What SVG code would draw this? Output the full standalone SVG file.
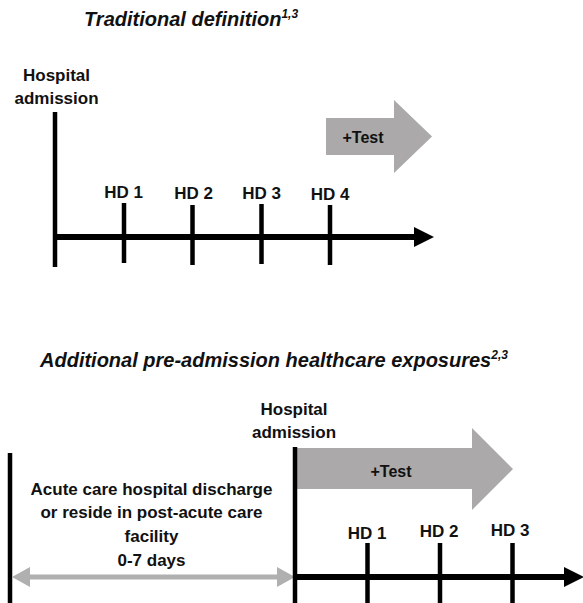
<svg xmlns="http://www.w3.org/2000/svg" width="583" height="603" viewBox="0 0 583 603">
<style>
.t{font-family:"Liberation Sans",Arial,sans-serif;font-weight:bold;fill:#111}
.title{font-size:20px;font-style:italic}
.lbl{font-size:17px;text-anchor:middle}
.sup{font-size:12px}
.blk{stroke:#000;stroke-width:4.5;fill:none}
.axis{stroke:#000;stroke-width:6;fill:none}
.gline{stroke:#b0b0b0;stroke-width:5;fill:none}
</style>
<defs>
<marker id="ah" markerUnits="userSpaceOnUse" markerWidth="22" markerHeight="22" refX="0" refY="10" orient="auto" viewBox="0 0 22 20">
<path d="M0,0 L20,10 L0,20 Z" fill="#000"/>
</marker>
<marker id="gh" markerUnits="userSpaceOnUse" markerWidth="20" markerHeight="20" refX="0" refY="10" orient="auto-start-reverse" viewBox="0 0 20 20">
<path d="M0,0 L18,10 L0,20 Z" fill="#b0b0b0"/>
</marker>
</defs>

<!-- Panel 1 -->
<g id="title1"><text class="t title" x="84" y="26">Traditional definition<tspan class="sup" dy="-8">1,3</tspan></text></g>
<g id="admission1">
<text class="t lbl" x="56.5" y="81">Hospital</text>
<text class="t lbl" x="56.5" y="104">admission</text>
</g>
<g id="test1">
<path d="M326,118 H394 V100 L432,136.5 L394,173 V155 H326 Z" fill="#aba9a9"/>
<text class="t lbl" x="363" y="143" style="font-size:16px">+Test</text>
</g>
<g id="hd1a"><text class="t lbl" x="123.5" y="198">HD 1</text></g>
<g id="hd2a"><text class="t lbl" x="193.5" y="199">HD 2</text></g>
<g id="hd3a"><text class="t lbl" x="261.5" y="199">HD 3</text></g>
<g id="hd4a"><text class="t lbl" x="330" y="200">HD 4</text></g>
<g id="connectors1">
<line class="blk" x1="55" y1="112" x2="55" y2="267"/>
<line class="axis" x1="55" y1="237" x2="414" y2="237" marker-end="url(#ah)"/>
<line class="blk" x1="124" y1="203" x2="124" y2="263"/>
<line class="blk" x1="192.5" y1="205" x2="192.5" y2="265"/>
<line class="blk" x1="261.5" y1="204" x2="261.5" y2="264"/>
<line class="blk" x1="330" y1="205" x2="330" y2="265"/>
</g>

<!-- Panel 2 -->
<g id="title2"><text class="t title" x="40" y="367">Additional pre-admission healthcare exposures<tspan class="sup" dy="-8">2,3</tspan></text></g>
<g id="admission2">
<text class="t lbl" x="294" y="415">Hospital</text>
<text class="t lbl" x="294" y="438">admission</text>
</g>
<g id="test2">
<path d="M295,448 H472 V428 L513,469 L472,510 V489 H295 Z" fill="#aba9a9"/>
<text class="t lbl" x="391" y="477" style="font-size:16px">+Test</text>
</g>
<g id="preadmission">
<text class="t lbl" x="151.5" y="495">Acute care hospital discharge</text>
<text class="t lbl" x="151.5" y="518">or reside in post-acute care</text>
<text class="t lbl" x="151.5" y="542">facility</text>
<text class="t lbl" x="151.5" y="566">0-7 days</text>
</g>
<g id="hd1b"><text class="t lbl" x="367" y="539">HD 1</text></g>
<g id="hd2b"><text class="t lbl" x="439" y="537">HD 2</text></g>
<g id="hd3b"><text class="t lbl" x="510" y="536">HD 3</text></g>
<g id="connectors2">
<line class="blk" x1="10" y1="453" x2="10" y2="603"/>
<line class="gline" x1="30" y1="577" x2="277" y2="577" marker-start="url(#gh)" marker-end="url(#gh)"/>
<line class="blk" x1="295" y1="447" x2="295" y2="603"/>
<line class="axis" x1="295" y1="577" x2="564" y2="577" marker-end="url(#ah)"/>
<line class="blk" x1="367.5" y1="543" x2="367.5" y2="603"/>
<line class="blk" x1="440" y1="543" x2="440" y2="603"/>
<line class="blk" x1="512.5" y1="543" x2="512.5" y2="603"/>
</g>
</svg>
